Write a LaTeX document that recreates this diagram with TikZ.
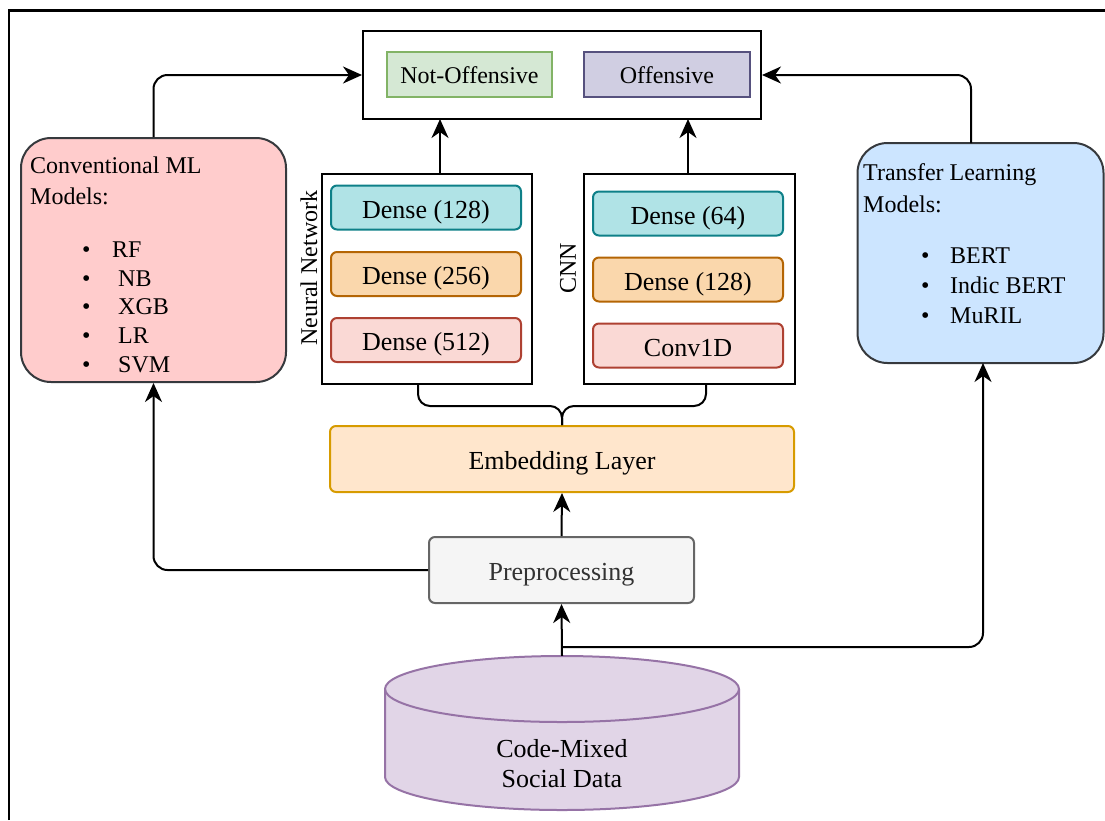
\documentclass[tikz,border=0pt]{standalone}
\usepackage{fontspec}
\setmainfont{Liberation Serif}
\usetikzlibrary{arrows.meta,calc}
\definecolor{mlfill}{HTML}{FFCCCC}
\definecolor{tlfill}{HTML}{CCE5FF}
\definecolor{sideborder}{HTML}{36393D}
\definecolor{nofill}{HTML}{D5E8D4}
\definecolor{nodraw}{HTML}{82B366}
\definecolor{offfill}{HTML}{D0CEE2}
\definecolor{offdraw}{HTML}{56517E}
\definecolor{tealfill}{HTML}{B0E3E6}
\definecolor{tealdraw}{HTML}{0E8088}
\definecolor{orfill}{HTML}{FAD7AC}
\definecolor{ordraw}{HTML}{B46504}
\definecolor{redfill}{HTML}{FAD9D5}
\definecolor{reddraw}{HTML}{AE4132}
\definecolor{embfill}{HTML}{FFE6CC}
\definecolor{embdraw}{HTML}{D79B00}
\definecolor{prefill}{HTML}{F5F5F5}
\definecolor{predraw}{HTML}{666666}
\definecolor{pretext}{HTML}{333333}
\definecolor{dbfill}{HTML}{E1D5E7}
\definecolor{dbdraw}{HTML}{9673A6}
\begin{document}
\begin{tikzpicture}[x=1pt,y=-1pt,
  conn/.style={line width=2pt,rounded corners=14pt},
  arrow/.style={line width=2pt,rounded corners=14pt,-{Stealth[length=19pt,width=17pt,inset=6pt]}},
  bigtxt/.style={font=\fontsize{26}{30}\selectfont},
  smalltxt/.style={font=\fontsize{24}{28}\selectfont},
  bigcentre/.style={bigtxt,text height=26pt,text depth=5pt},
  plainbox/.style={draw=black,line width=2pt,fill=white},
  sidebox/.style={draw=sideborder,line width=2pt,rounded corners=30pt},
  layerbox/.style={line width=2pt,rounded corners=6pt,minimum width=190pt,minimum height=44pt,inner sep=0pt,bigcentre},
  classbox/.style={line width=2pt,minimum height=45pt,inner sep=0pt,smalltxt,text height=22pt,text depth=5pt},
  listtxt/.style={anchor=base west,inner sep=0pt,smalltxt},
]
\useasboundingbox (0,0) rectangle (1105,820);
% outer frame
\draw[line width=2.5pt] (9,820) -- (9,10.5) -- (1105,10.5);

% output box
\node[plainbox,minimum width=398pt,minimum height=88pt] (out) at (562,75) {};
\node[classbox,draw=nodraw,fill=nofill,minimum width=165pt] (noff) at (469.5,74.5) {Not-Offensive};
\node[classbox,draw=offdraw,fill=offfill,minimum width=166pt] (off) at (667,74.5) {Offensive};

% side boxes
\node[sidebox,fill=mlfill,minimum width=265pt,minimum height=244pt] (ml) at (153.5,260) {};
\node[listtxt] (mlt1) at (30,173) {Conventional ML};
\node[listtxt] (mlt2) at (30,204) {Models:};
\foreach \t/\y/\xx [count=\i] in {RF/257/112,NB/286/118,XGB/314/118,LR/343/118,SVM/372/118}{
  \node[listtxt] (mlb\i) at (82,\y) {•};
  \node[listtxt] (mli\i) at (\xx,\y) {\t};
}
\node[sidebox,fill=tlfill,minimum width=246pt,minimum height=220pt] (tl) at (980.5,253) {};
\node[listtxt] (tlt1) at (863,180) {Transfer Learning};
\node[listtxt] (tlt2) at (863,212) {Models:};
\foreach \t/\y [count=\i] in {BERT/263,Indic BERT/293,MuRIL/323}{
  \node[listtxt] (tlb\i) at (921,\y) {•};
  \node[listtxt] (tli\i) at (950,\y) {\t};
}

% neural network
\node[plainbox,minimum width=210pt,minimum height=210pt] (nn) at (426.5,279) {};
\node[smalltxt,rotate=90,inner sep=0pt] (nnl) at (309,268) {Neural Network};
\node[layerbox,draw=tealdraw,fill=tealfill] (nn1) at (426,207.5) {Dense (128)};
\node[layerbox,draw=ordraw,fill=orfill] (nn2) at (426,274) {Dense (256)};
\node[layerbox,draw=reddraw,fill=redfill] (nn3) at (426,340) {Dense (512)};

% CNN
\node[plainbox,minimum width=211pt,minimum height=210pt] (cnn) at (689,279) {};
\node[smalltxt,rotate=90,inner sep=0pt] (cnnl) at (568,268) {CNN};
\node[layerbox,draw=tealdraw,fill=tealfill] (c1) at (688,213.5) {Dense (64)};
\node[layerbox,draw=ordraw,fill=orfill] (c2) at (688,279.5) {Dense (128)};
\node[layerbox,draw=reddraw,fill=redfill] (c3) at (688,345.5) {Conv1D};

% embedding and preprocessing
\node[line width=2pt,rounded corners=6pt,draw=embdraw,fill=embfill,minimum width=464pt,minimum height=66pt,inner sep=0pt,bigcentre] (emb) at (562,459) {Embedding Layer};
\node[line width=2pt,rounded corners=6pt,draw=predraw,fill=prefill,text=pretext,minimum width=265pt,minimum height=66pt,inner sep=0pt,bigcentre] (pre) at (561.5,570) {Preprocessing};

% database cylinder
\node[minimum width=354pt,minimum height=154pt,inner sep=0pt] (db) at (562,733) {};
\fill[dbfill,draw=dbdraw,line width=2pt]
  (385,689) -- (385,777) arc[start angle=180,end angle=360,x radius=177pt,y radius=33pt]
  -- (739,689) arc[start angle=0,end angle=180,x radius=177pt,y radius=33pt] -- cycle;
\draw[dbdraw,line width=2pt] (385,689) arc[start angle=180,end angle=360,x radius=177pt,y radius=33pt];
\node[bigtxt,align=center,inner sep=0pt] (dbt) at (562,764) {Code-Mixed\\Social Data};

% coordinates
\coordinate (nntop) at (440,174);
\coordinate (outnn) at (440,119);
\coordinate (cnntop) at (688,174);
\coordinate (outcnn) at (688,119);
\coordinate (tltop) at (971,143);
\coordinate (tlbot) at (983,363);
\coordinate (split) at (562,647);
\coordinate (nnbr) at (418,384);
\coordinate (cnnbr) at (706,384);
\coordinate (tip) at (562,406);

% connectors
\draw[arrow] (ml.north) |- (out.west);
\draw[arrow] (tltop) |- (out.east);
\draw[arrow] (nntop) -- (outnn);
\draw[arrow] (cnntop) -- (outcnn);
\draw[conn,rounded corners=12pt] (nnbr) |- (tip) -- (emb.north);
\draw[conn,rounded corners=12pt] (cnnbr) |- (tip) -- (emb.north);
\draw[arrow] (pre.north) -- (emb.south);
\draw[arrow] (pre.west) -| (ml.south);
\draw[arrow] (db.north) -- (pre.south);
\draw[arrow] (split) -| (tlbot);
\end{tikzpicture}
\end{document}
